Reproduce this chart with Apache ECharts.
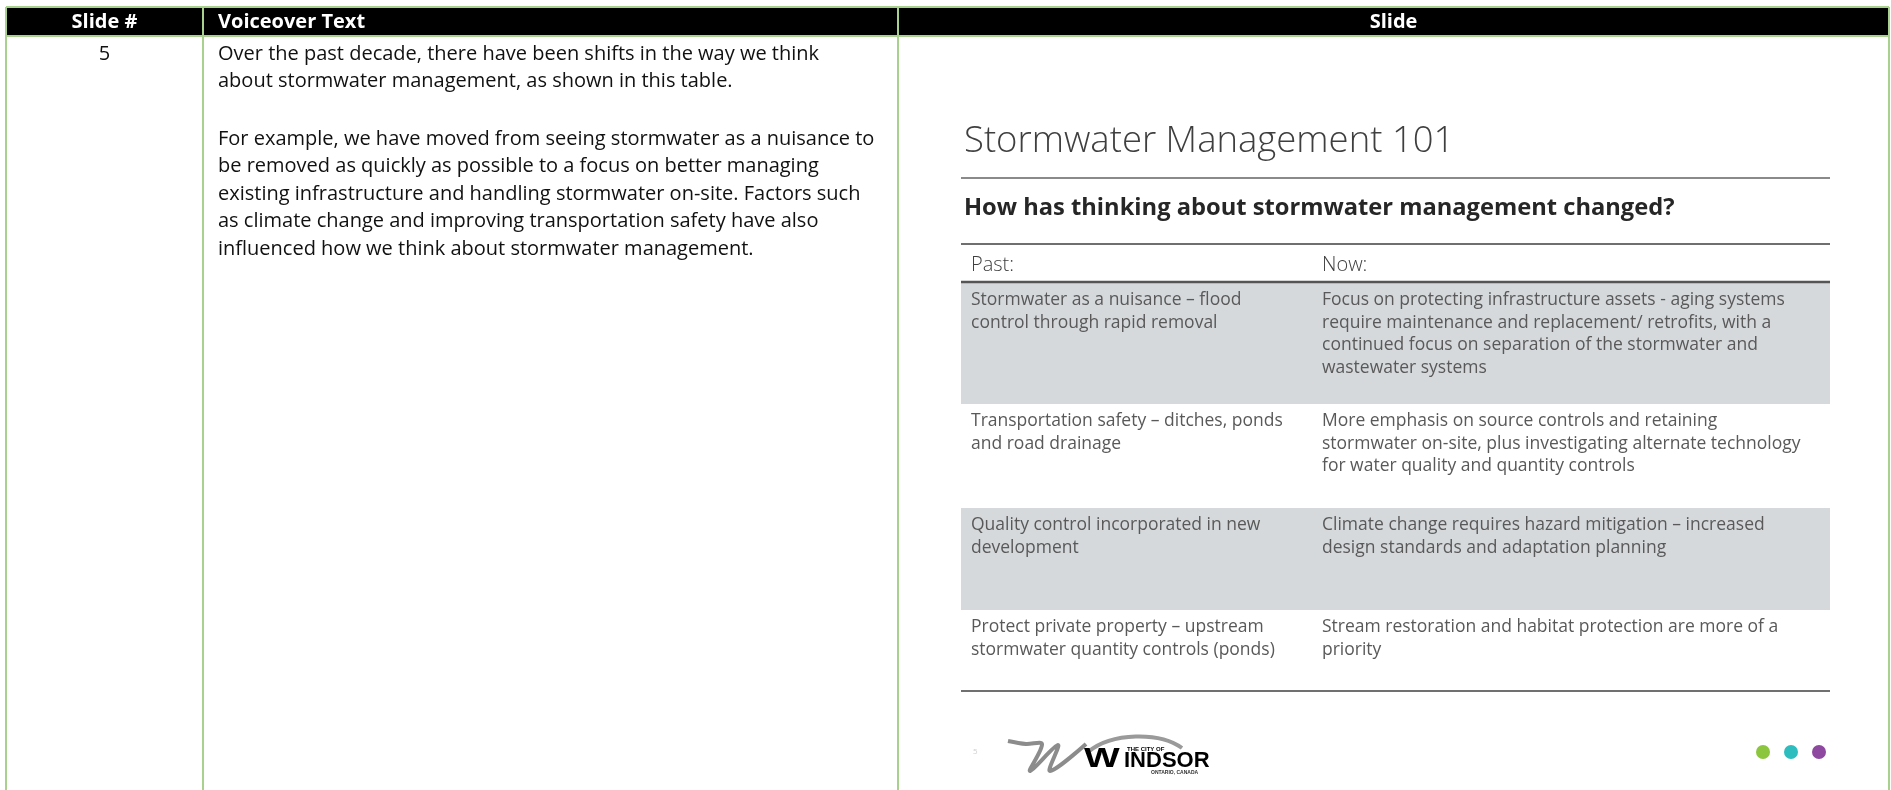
<!DOCTYPE html>
<html>
<head>
<meta charset="utf-8">
<title>Slide 5 - Stormwater Management 101</title>
<script src="https://cdn.jsdelivr.net/npm/echarts@6/dist/echarts.min.js"></script>
<style>
    html, body { margin: 0; padding: 0; background: #ffffff; }
    #storyboard { width: 1891px; height: 790px; }
</style>
</head>
<body>
<div id="storyboard"></div>
<script>
// storyboard table content
var headerLabels = ['Slide #', 'Voiceover Text', 'Slide'];
var slideNumber = '5';
var voiceoverLines = [
    'Over the past decade, there have been shifts in the way we think',
    'about stormwater management, as shown in this table.',
    '',
    'For example, we have moved from seeing stormwater as a nuisance to',
    'be removed as quickly as possible to a focus on better managing',
    'existing infrastructure and handling stormwater on-site. Factors such',
    'as climate change and improving transportation safety have also',
    'influenced how we think about stormwater management.'
];

// slide content
var slideTitle = 'Stormwater Management 101';
var slideQuestion = 'How has thinking about stormwater management changed?';
var tableHeads = ['Past:', 'Now:'];
var pastRows = [
    ['Stormwater as a nuisance \u2013 flood', 'control through rapid removal'],
    ['Transportation safety \u2013 ditches, ponds', 'and road drainage'],
    ['Quality control incorporated in new', 'development'],
    ['Protect private property \u2013 upstream', 'stormwater quantity controls (ponds)']
];
var nowRows = [
    ['Focus on protecting infrastructure assets - aging systems',
     'require maintenance and replacement/ retrofits, with a',
     'continued focus on separation of the stormwater and',
     'wastewater systems'],
    ['More emphasis on source controls and retaining',
     'stormwater on-site, plus investigating alternate technology',
     'for water quality and quantity controls'],
    ['Climate change requires hazard mitigation \u2013 increased',
     'design standards and adaptation planning'],
    ['Stream restoration and habitat protection are more of a',
     'priority']
];
var logoTexts = ['THE CITY OF', 'W', 'INDSOR', 'ONTARIO, CANADA'];
var pageNumber = '5';

// layout
var H = 790;
var gridColor = '#a9d18e';
var font = '"Open Sans", "Noto Sans", sans-serif';
var colX = [6, 203, 898, 1889];
var headTop = 7, headBottom = 36;
var slideLeft = 961, slideRight = 1830;
var rowEdges = [283, 404, 508, 610];
var pastX = 971, nowX = 1322;

var els = [];

function txt(x, y, s, size, color, weight, align) {
    els.push({
        type: 'text',
        x: x,
        y: y,
        style: {
            text: s,
            fontFamily: font,
            fontSize: size,
            fontWeight: weight || 'normal',
            fill: color,
            textAlign: align || 'left',
            textVerticalAlign: 'middle'
        }
    });
}
function line(x1, y1, x2, y2, color, w) {
    els.push({
        type: 'line',
        shape: { x1: x1, y1: y1, x2: x2, y2: y2 },
        style: { stroke: color, lineWidth: w }
    });
}

// header band
els.push({
    type: 'rect',
    shape: { x: colX[0], y: headTop, width: colX[3] - colX[0], height: headBottom - headTop },
    style: { fill: '#000000' }
});

// grey rows of the slide table
for (var r = 0; r < pastRows.length; r++) {
    if (r % 2 == 0) {
        els.push({
            type: 'rect',
            shape: { x: slideLeft, y: rowEdges[r], width: slideRight - slideLeft, height: rowEdges[r + 1] - rowEdges[r] },
            style: { fill: '#d6d9dc' }
        });
    }
}

// grid lines
line(colX[0], headTop, colX[3], headTop, gridColor, 2);
line(colX[0], headBottom, colX[3], headBottom, gridColor, 2);
for (var c = 0; c < colX.length; c++) {
    line(colX[c], headTop, colX[c], H, gridColor, 2);
}

// header text
txt((colX[0] + colX[1]) / 2, 22, headerLabels[0], 20, '#ffffff', 'bold', 'center');
txt(218, 22, headerLabels[1], 20, '#ffffff', 'bold');
txt((colX[2] + colX[3]) / 2, 22, headerLabels[2], 20, '#ffffff', 'bold', 'center');

// slide number and voiceover
txt((colX[0] + colX[1]) / 2, 54, slideNumber, 20, '#111111', 'normal', 'center');
for (var i = 0; i < voiceoverLines.length; i++) {
    if (voiceoverLines[i]) txt(218, 54 + i * 27.5 + (i > 2 ? 2.5 : 0), voiceoverLines[i], 20, '#111111');
}

// slide title block
txt(964, 142, slideTitle, 36.5, '#3f3f3f', 300);
line(slideLeft, 178, slideRight, 178, '#8a8a8a', 2);
txt(964, 208, slideQuestion, 23.7, '#262626', 'bold');
line(slideLeft, 244, slideRight, 244, '#6f6f6f', 2);
txt(pastX, 265, tableHeads[0], 20, '#404040', 300);
txt(nowX, 265, tableHeads[1], 20, '#404040', 300);
line(slideLeft, 282, slideRight, 282, '#555555', 2.5);

// table rows
for (var r = 0; r < pastRows.length; r++) {
    var y0 = rowEdges[r] + 17.5;
    for (var k = 0; k < pastRows[r].length; k++) {
        txt(pastX, y0 + k * 22.5, pastRows[r][k], 17.5, '#595959');
    }
    for (var k = 0; k < nowRows[r].length; k++) {
        txt(nowX, y0 + k * 22.5, nowRows[r][k], 17.5, '#595959');
    }
}
line(slideLeft, 691, slideRight, 691, '#707070', 2);

// footer: page number, Windsor logo, dots
txt(973, 752, pageNumber, 8, '#cfcfcf');
els.push({
    type: 'polyline',
    shape: {
        points: [[1008, 741], [1026, 744], [1042, 744], [1030, 771], [1058, 745], [1050, 771], [1086, 744]],
        smooth: 0.35
    },
    style: { stroke: '#8c8c8c', lineWidth: 4, fill: null }
});
els.push({
    type: 'bezierCurve',
    shape: { x1: 1088, y1: 752, cpx1: 1112, cpy1: 732, cpx2: 1160, cpy2: 732, x2: 1182, y2: 748 },
    style: { stroke: '#9a9a9a', lineWidth: 4, fill: null }
});
els.push({
    type: 'text', x: 1127, y: 749,
    style: { text: logoTexts[0], fontFamily: 'Liberation Sans', fontSize: 6, fontWeight: 'bold', fill: '#000', textVerticalAlign: 'middle' }
});
els.push({
    type: 'text', x: 1084, y: 759, scaleX: 1.35,
    style: { text: logoTexts[1], fontFamily: 'Liberation Sans', fontSize: 28, fontWeight: 'bold', fill: '#000', textVerticalAlign: 'middle' }
});
els.push({
    type: 'text', x: 1124, y: 761,
    style: { text: logoTexts[2], fontFamily: 'Liberation Sans', fontSize: 22, fontWeight: 'bold', fill: '#000', textVerticalAlign: 'middle' }
});
els.push({
    type: 'text', x: 1151, y: 773,
    style: { text: logoTexts[3], fontFamily: 'Liberation Sans', fontSize: 5, fontWeight: 'bold', fill: '#333', textVerticalAlign: 'middle' }
});
var dotX = [1763, 1791, 1819];
var dotColors = ['#8cc63f', '#2ebdbf', '#8f48a0'];
for (var d = 0; d < dotX.length; d++) {
    els.push({ type: 'circle', shape: { cx: dotX[d], cy: 752, r: 7 }, style: { fill: dotColors[d] } });
}

var myChart = echarts.init(document.getElementById('storyboard'));
myChart.setOption({
    animation: false,
    graphic: { elements: els }
});
</script>
</body>
</html>
